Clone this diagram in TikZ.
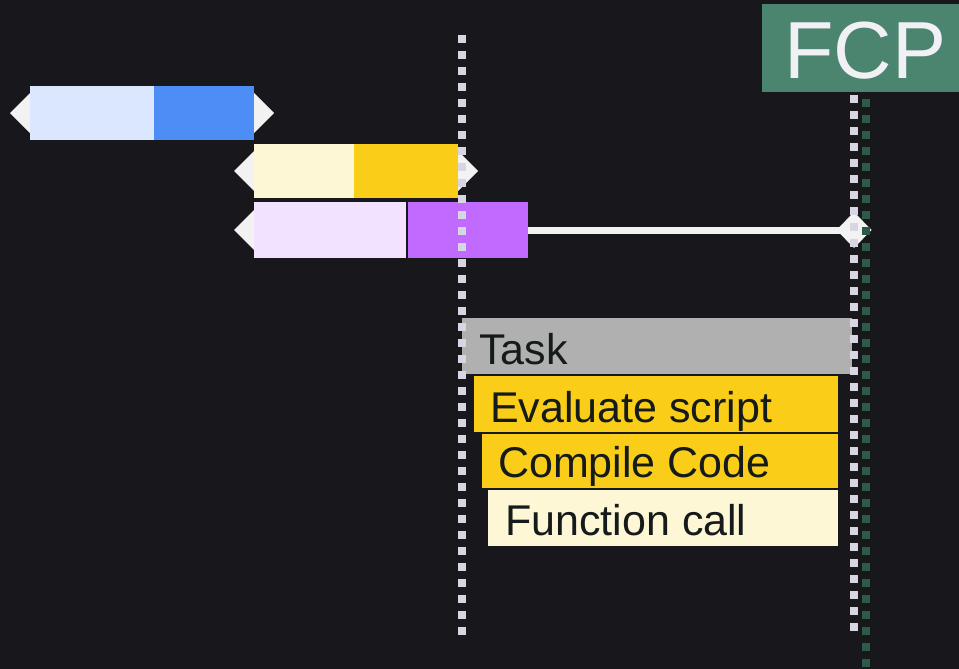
\documentclass[tikz,border=0pt]{standalone}
\usepackage{fontspec}
\setmainfont{Liberation Sans}
\usetikzlibrary{shapes.geometric}
\definecolor{bgc}{HTML}{18171C}
\definecolor{bluelt}{HTML}{DBE7FF}
\definecolor{bluedk}{HTML}{4D8DF6}
\definecolor{yellt}{HTML}{FEF7D6}
\definecolor{yeldk}{HTML}{FACD18}
\definecolor{purlt}{HTML}{F2E2FF}
\definecolor{purdk}{HTML}{C06AFF}
\definecolor{capc}{HTML}{F2F2F2}
\definecolor{dotc}{HTML}{D8D6E2}
\definecolor{fcpdot}{HTML}{2E5A48}
\definecolor{fcpbg}{HTML}{4B8570}
\definecolor{fcptxt}{HTML}{F0F0F5}
\definecolor{taskc}{HTML}{B0B0B0}
\definecolor{inkc}{HTML}{151A1A}
\begin{document}
\begin{tikzpicture}[x=1pt,y=-1pt,
  bar/.style={rectangle,inner sep=0pt,outer sep=0pt,anchor=north west,minimum height=54pt},
  endcap/.style={diamond,fill=capc,inner sep=0pt,outer sep=0pt,minimum width=40pt,minimum height=40pt},
  slice/.style={rectangle,inner sep=0pt,outer sep=0pt,anchor=north west,minimum height=56pt},
  lbl/.style={inner sep=0pt,anchor=base west,text=inkc,font=\fontsize{43}{50}\selectfont},
  marker/.style={line width=8pt,line cap=butt,dash pattern=on 8pt off 8pt},
  whisker/.style={draw=capc,line width=7pt}]
\useasboundingbox (0,0) rectangle (959,669);
\fill[bgc] (0,0) rectangle (959,669);

% end caps of the request bars (behind the bars)
\node[endcap] (c1a) at (30,113) {};
\node[endcap] (c1b) at (254,113) {};
\node[endcap] (c2a) at (254,171) {};
\node[endcap] (c2b) at (458,171) {};
\node[endcap] (c3a) at (254,230) {};
\node[endcap,minimum width=35pt,minimum height=36pt] (c3b) at (854,230) {};

% request bars
\node[bar,fill=bluelt,minimum width=124pt] (r1a) at (30,86) {};
\node[bar,fill=bluedk,minimum width=100pt] (r1b) at (154,86) {};
\node[bar,fill=yellt,minimum width=100pt] (r2a) at (254,144) {};
\node[bar,fill=yeldk,minimum width=104pt] (r2b) at (354,144) {};
\node[bar,fill=purlt,minimum width=152pt,minimum height=56pt] (r3a) at (254,202) {};
\node[bar,fill=purdk,minimum width=120pt,minimum height=56pt] (r3b) at (408,202) {};

% long tail of the purple request
\draw[whisker] (r3b.east) -- (c3b.center);

% main-thread task stack
\node[slice,fill=taskc,minimum width=390pt] (task) at (462,318) {};
\node[slice,fill=yeldk,minimum width=364pt] (eval) at (474,376) {};
\node[slice,fill=yeldk,minimum width=356pt,minimum height=54pt] (comp) at (482,434) {};
\node[slice,fill=yellt,minimum width=350pt] (func) at (488,490) {};
\node[lbl] (taskt) at (479,364) {Task};
\node[lbl] (evalt) at (490,422) {Evaluate script};
\node[lbl] (compt) at (498,477) {Compile Code};
\node[lbl] (funct) at (505,535) {Function call};

% FCP marker line (behind its label)
\coordinate (g0) at (866,83);
\coordinate (g1) at (866,675);
\draw[marker,draw=fcpdot] (g0) -- (g1);
\node[rectangle,fill=fcpbg,inner sep=0pt,outer sep=0pt,anchor=north west,
      minimum width=200pt,minimum height=88pt] (fcp) at (762,4) {};
\node[inner sep=0pt,anchor=base west,text=fcptxt,font=\fontsize{81}{90}\selectfont]
      (fcpt) at (784,79) {FCP};

% dotted time markers
\coordinate (m0) at (462,35);
\coordinate (m1) at (462,636);
\coordinate (n0) at (854,95);
\coordinate (n1) at (854,632);
\draw[marker,draw=dotc] (m0) -- (m1);
\draw[marker,draw=dotc] (n0) -- (n1);
\draw[marker,draw=fcpdot] (866,99) -- (866,260);
\end{tikzpicture}
\end{document}
